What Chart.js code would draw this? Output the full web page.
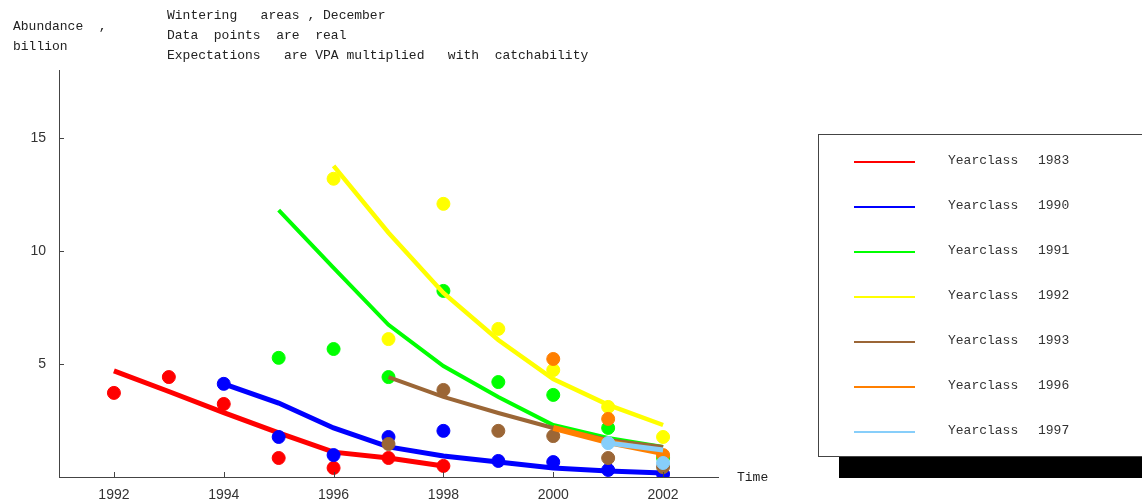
<!DOCTYPE html>
<html>
<head>
<meta charset="utf-8">
<script src="https://cdn.jsdelivr.net/npm/chart.js@4.4.1/dist/chart.umd.min.js"></script>
<style>
  html, body { margin: 0; padding: 0; background: #fff; }
  #wrap { width: 1142px; height: 504px; }
</style>
</head>
<body>
<div id="wrap"><canvas id="chart" width="1142" height="504"></canvas></div>
<script>
// years on the time axis
const years = [1992, 1993, 1994, 1995, 1996, 1997, 1998, 1999, 2000, 2001, 2002];
const xTicks = [1992, 1994, 1996, 1998, 2000, 2002];
const yTicks = [5, 10, 15];

const yearclasses = ['1983', '1990', '1991', '1992', '1993', '1996', '1997'];
const colors = ['#ff0000', '#0000ff', '#00ff00', '#ffff00', '#9b6636', '#ff7f00', '#87cefa'];

// expectations (VPA * catchability), billion
const exp1983 = [4.69, 3.78, 2.85, 1.95, 1.10, 0.84, 0.49, null, null, null, null];
const exp1990 = [null, null, 4.12, 3.27, 2.17, 1.33, 0.93, 0.66, 0.40, 0.27, 0.18];
const exp1991 = [null, null, null, 11.8, 9.25, 6.73, 4.91, 3.54, 2.30, 1.73, 1.33];
const exp1992 = [null, null, null, null, 13.76, 10.8, 8.14, 6.06, 4.33, 3.19, 2.30];
const exp1993 = [null, null, null, null, null, 4.42, 3.54, 2.83, 2.17, 1.64, 1.33];
const exp1996 = [null, null, null, null, null, null, null, null, 2.17, 1.55, 1.06];
const exp1997 = [null, null, null, null, null, null, null, null, null, 1.50, 1.19];

// real data points
const obs1983 = [3.72, 4.42, 3.23, 0.84, 0.40, 0.84, 0.49, null, null, null, null];
const obs1990 = [null, null, 4.12, 1.77, 0.97, 1.77, 2.04, 0.71, 0.66, 0.31, 0.13];
const obs1991 = [null, null, null, 5.27, 5.66, 4.42, 8.23, 4.20, 3.63, 2.17, 0.85];
const obs1992 = [null, null, null, null, 13.19, 6.10, 12.08, 6.55, 4.73, 3.10, 1.77];
const obs1993 = [null, null, null, null, null, 1.46, 3.85, 2.04, 1.81, 0.84, 0.44];
const obs1996 = [null, null, null, null, null, null, null, null, 5.22, 2.57, 0.97];
const obs1997 = [null, null, null, null, null, null, null, null, null, 1.50, 0.62];

const expected = [exp1983, exp1990, exp1991, exp1992, exp1993, exp1996, exp1997];
const observed = [obs1983, obs1990, obs1991, obs1992, obs1993, obs1996, obs1997];
const lineWidths = [5, 5, 4, 4.5, 4, 6, 5];

const toXY = arr => years.map((yr, i) => ({ x: yr, y: arr[i] })).filter(p => p.y !== null);

const datasets = [];
yearclasses.forEach((yc, i) => {
  datasets.push({
    type: 'line',
    label: 'Yearclass ' + yc,
    data: toXY(expected[i]),
    borderColor: colors[i],
    borderWidth: lineWidths[i],
    pointRadius: 0,
    tension: 0,
    fill: false,
    order: -(i * 2)
  });
  datasets.push({
    type: 'scatter',
    label: 'obs ' + yc,
    data: toXY(observed[i]),
    backgroundColor: colors[i],
    borderColor: colors[i],
    pointRadius: 6.5,
    showLine: false,
    order: -(i * 2 + 1)
  });
});

const mono = '13px "Liberation Mono"';

const decorations = {
  id: 'decorations',
  afterDraw(chart) {
    const ctx = chart.ctx;
    const area = chart.chartArea;
    const xs = chart.scales.x, ys = chart.scales.y;
    ctx.save();

    // inward tick marks
    ctx.strokeStyle = '#444';
    ctx.lineWidth = 1;
    xTicks.forEach(v => {
      const px = Math.round(xs.getPixelForValue(v)) + 0.5;
      ctx.beginPath();
      ctx.moveTo(px, area.bottom);
      ctx.lineTo(px, area.bottom - 5);
      ctx.stroke();
    });
    yTicks.forEach(v => {
      const py = Math.round(ys.getPixelForValue(v)) + 0.5;
      ctx.beginPath();
      ctx.moveTo(area.left, py);
      ctx.lineTo(area.left + 5, py);
      ctx.stroke();
    });

    // titles
    ctx.fillStyle = '#222';
    ctx.font = mono;
    ctx.textBaseline = 'middle';
    ctx.textAlign = 'left';
    ctx.fillText('Wintering   areas , December', 167, 16);
    ctx.fillText('Data  points  are  real', 167, 36);
    ctx.fillText('Expectations   are VPA multiplied   with  catchability', 167, 56);
    ctx.fillText('Abundance  ,', 13, 27);
    ctx.fillText('billion', 13, 47);
    ctx.fillText('Time', 737, 478);

    // legend box with shadow
    ctx.fillStyle = '#000';
    ctx.fillRect(839, 456, 303, 22);
    ctx.fillStyle = '#fff';
    ctx.fillRect(818, 134, 330, 322);
    ctx.strokeStyle = '#444';
    ctx.strokeRect(818.5, 134.5, 330, 322);

    yearclasses.forEach((yc, i) => {
      const y = 161 + i * 45;
      ctx.fillStyle = colors[i];
      ctx.fillRect(854, y, 61, 2);
      ctx.fillStyle = '#333';
      ctx.fillText('Yearclass', 948, y);
      ctx.fillText(yc, 1038, y);
    });
    ctx.restore();
  }
};

Chart.defaults.font.family = '"Liberation Sans", sans-serif';
Chart.defaults.font.size = 14;
Chart.defaults.color = '#333';

new Chart(document.getElementById('chart'), {
  type: 'line',
  data: { datasets },
  options: {
    responsive: false,
    animation: false,
    layout: { padding: { top: 70, right: 424, left: 0, bottom: 0 } },
    plugins: {
      legend: { display: false },
      tooltip: { enabled: false }
    },
    scales: {
      x: {
        type: 'linear',
        min: 1991,
        max: 2003,
        afterBuildTicks: s => { s.ticks = xTicks.map(v => ({ value: v })); },
        afterFit: s => { s.height = 27; },
        ticks: { padding: 10, callback: v => String(v) },
        grid: { display: false, drawTicks: false },
        border: { display: true, color: '#444', width: 1 }
      },
      y: {
        type: 'linear',
        min: 0,
        max: 18,
        afterBuildTicks: s => { s.ticks = yTicks.map(v => ({ value: v })); },
        afterFit: s => { s.width = 59; },
        ticks: { padding: 13, callback: v => String(v) },
        grid: { display: false, drawTicks: false },
        border: { display: true, color: '#444', width: 1 }
      }
    }
  },
  plugins: [decorations]
});
</script>
</body>
</html>
